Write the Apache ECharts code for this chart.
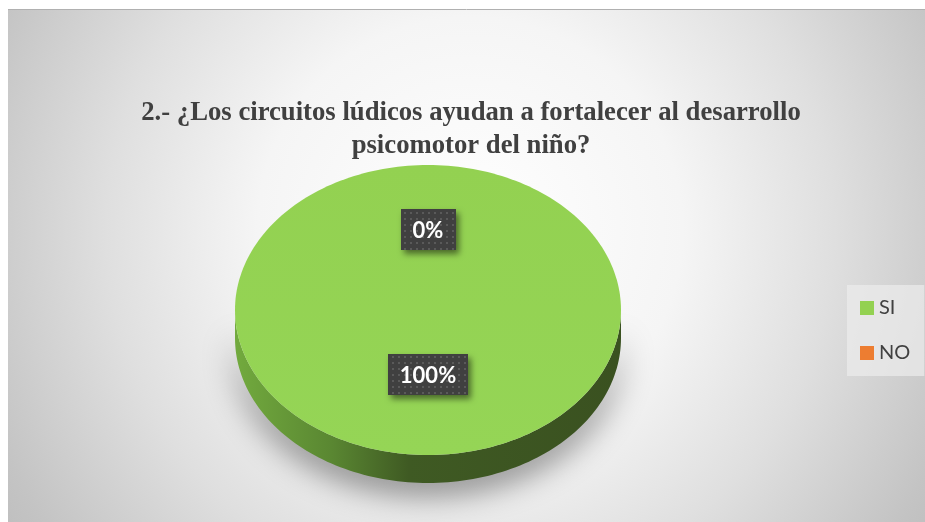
<!DOCTYPE html>
<html><head><meta charset="utf-8">
<script src="https://cdn.jsdelivr.net/npm/echarts@6/dist/echarts.min.js"></script>
<style>html,body{margin:0;padding:0;background:#fff}#c{width:925px;height:522px}</style>
</head><body><div id="c"></div>
<script>
// ---- data ----
const chartTitle = '2.- ¿Los circuitos lúdicos ayudan a fortalecer al desarrollo\npsicomotor del niño?';
const categories = ['SI', 'NO'];
const values = [100, 0];
const percentLabels = ['100%', '0%'];
const colors = ['#93d151', '#ed7d31'];

// ---- layout ----
const CX = 428, CY = 310, RX = 193, RY = 145, DEPTH = 28;
const LABEL_FONT = 'bold 22px Lato';

const measureCtx = document.createElement('canvas').getContext('2d');
function textWidth(t) { measureCtx.font = LABEL_FONT; return measureCtx.measureText(t).width; }

// dotted pattern for label boxes
const pat = document.createElement('canvas');
pat.width = 6; pat.height = 6;
(function () {
  const g = pat.getContext('2d');
  g.fillStyle = '#404040'; g.fillRect(0, 0, 6, 6);
  g.fillStyle = '#5a5a5a'; g.fillRect(2, 2, 2, 2);
})();

function arcPts(a0, a1, dy) {
  const n = Math.max(2, Math.ceil(Math.abs(a1 - a0) / (2 * Math.PI) * 240));
  const pts = [];
  for (let k = 0; k <= n; k++) {
    const a = a0 + (a1 - a0) * k / n;
    pts.push([CX + RX * Math.cos(a), CY + dy + RY * Math.sin(a)]);
  }
  return pts;
}

function sideGradient(base) {
  return {
    type: 'linear', x: CX - RX, y: 0, x2: CX + RX, y2: 0, global: true,
    colorStops: base === 0 ? [
      { offset: 0, color: '#72aa3e' },
      { offset: 0.25, color: '#5a8732' },
      { offset: 0.45, color: '#3f5a23' },
      { offset: 1, color: '#3a5120' }
    ] : [
      { offset: 0, color: '#c7652a' },
      { offset: 0.45, color: '#8a4418' },
      { offset: 1, color: '#7f3e16' }
    ]
  };
}

function makeRender(i) {
  return function (params, api) {
    const total = values.reduce((a, b) => a + b, 0);
    let cum = 0;
    for (let k = 0; k < i; k++) cum += values[k];
    const v = api.value(0);
    const a0 = -Math.PI / 2 + cum / total * 2 * Math.PI;
    const a1 = a0 + v / total * 2 * Math.PI;
    const children = [];
    if (v > 0) {
      const ranges = [[0, Math.PI], [2 * Math.PI, 3 * Math.PI], [-2 * Math.PI, -Math.PI]];
      ranges.forEach(function (r) {
        const s = Math.max(a0, r[0]), e = Math.min(a1, r[1]);
        if (e > s) {
          const pts = arcPts(s, e, 0).concat(arcPts(e, s, DEPTH));
          children.push({
            type: 'polygon', shape: { points: pts },
            style: {
              fill: sideGradient(i),
              shadowBlur: 32, shadowColor: 'rgba(0,0,0,0.5)', shadowOffsetY: 10
            }
          });
        }
      });
      const full = v >= total;
      const top = full ? arcPts(a0, a1, 0) : [[CX, CY]].concat(arcPts(a0, a1, 0));
      children.push({
        type: 'polygon', shape: { points: top },
        style: {
          fill: {
            type: 'linear', x: 0, y: CY - RY, x2: 0, y2: CY + RY, global: true,
            colorStops: [{ offset: 0, color: i === 0 ? '#93d151' : '#ef8238' },
                         { offset: 1, color: i === 0 ? '#95d556' : '#ee7f33' }]
          }
        }
      });
    }
    const mid = (a0 + a1) / 2;
    const lx = CX + 0.5 * RX * Math.cos(mid);
    const ly = CY - 8 + 0.5 * RY * Math.sin(mid);
    const txt = percentLabels[i];
    const bw = Math.round(textWidth(txt) + 24), bh = 41;
    children.push({
      type: 'rect',
      shape: { x: Math.round(lx - bw / 2), y: Math.round(ly - bh / 2), width: bw, height: bh },
      style: {
        fill: { image: pat, repeat: 'repeat' },
        shadowBlur: 6, shadowColor: 'rgba(0,0,0,0.5)', shadowOffsetX: 3, shadowOffsetY: 4
      }
    });
    children.push({
      type: 'text',
      style: { text: txt, x: lx, y: ly + 1, align: 'center', verticalAlign: 'middle', fill: '#ffffff', font: LABEL_FONT }
    });
    return { type: 'group', children: children };
  };
}

const chart = echarts.init(document.getElementById('c'), null, { renderer: 'canvas' });
chart.setOption({
  animation: false,
  graphic: [
    {
      type: 'rect', z: -10, silent: true,
      shape: { x: 8, y: 10, width: 917, height: 512 },
      style: {
        fill: {
          type: 'radial', x: 470, y: 230, r: 560, global: true,
          colorStops: [
            { offset: 0, color: '#ffffff' },
            { offset: 0.38, color: '#f5f5f5' },
            { offset: 0.65, color: '#dfdfdf' },
            { offset: 0.92, color: '#c4c4c4' },
            { offset: 1, color: '#bebebe' }
          ]
        }
      }
    },
    {
      type: 'line', z: -9, silent: true,
      shape: { x1: 8, y1: 9.5, x2: 925, y2: 9.5 },
      style: { stroke: '#b0b0b0', lineWidth: 1 }
    }
  ],
  title: {
    text: chartTitle,
    left: 471, top: 97, textAlign: 'center', padding: 0,
    textStyle: {
      fontFamily: 'Liberation Serif', fontWeight: 'bold', fontSize: 26.7,
      color: '#404040', lineHeight: 33
    }
  },
  legend: {
    data: categories,
    orient: 'vertical', left: 847, top: 285,
    icon: 'rect', itemWidth: 14, itemHeight: 14, itemGap: 25,
    padding: [13, 14, 13, 13],
    backgroundColor: 'rgba(236,236,236,0.7)',
    textStyle: { fontFamily: 'Lato', fontSize: 20, color: '#404040' }
  },
  series: categories.map(function (name, i) {
    return {
      type: 'custom', name: name, coordinateSystem: 'none',
      itemStyle: { color: colors[i] },
      renderItem: makeRender(i),
      data: [values[i]]
    };
  })
});
</script>
</body></html>
